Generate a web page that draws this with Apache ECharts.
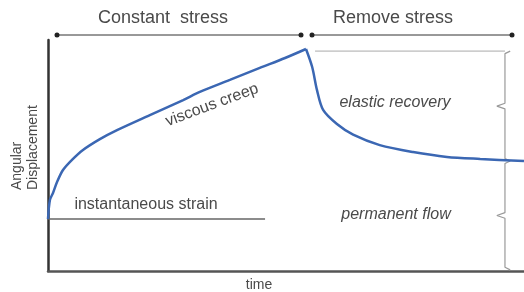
<!DOCTYPE html>
<html>
<head>
<meta charset="utf-8">
<script src="https://cdn.jsdelivr.net/npm/echarts@6/dist/echarts.min.js"></script>
<style>
  html, body { margin: 0; padding: 0; background: #fff; }
  #chart { width: 524px; height: 292px; }
</style>
</head>
<body>
<div id="chart"></div>
<script>
// time (0-100) and angular displacement (0-100)
const creep_time = [0, 0.4, 1.05, 1.9, 3.15, 5.04, 7.35, 10.9, 14.5, 21.4, 28.4, 31.9, 38.2, 44.5, 49.8, 54.2];
const creep_disp = [22.5, 30.7, 33.8, 38.5, 43.7, 48.1, 52.4, 57.1, 61.0, 67.5, 74.0, 77.5, 82.7, 87.9, 92.2, 96.1];

const recovery_time = [54.2, 55.5, 56.5, 57.8, 60.7, 64.1, 69.7, 76.7, 83.8, 90.8, 100];
const recovery_disp = [96.1, 88.3, 78.4, 69.7, 63.6, 59.0, 54.5, 51.5, 49.4, 48.5, 47.6];

const instant_strain = 22.5;       // level of the instantaneous strain line
const instant_end = 45.6;          // where that line stops
const peak_level = 95.2;           // reference line after unloading
const peak_line = [56.1, 96.0];
const final_level = 47.6;          // displacement left at the end
const brace_x = 96.0;

function zip(xs, ys) {
    return xs.map((x, i) => [x, ys[i]]);
}

// curly brace from top to bottom at brace_x
function brace(top, bottom) {
    const mid = (top + bottom) / 2;
    return [
        [brace_x + 1.1, top], [brace_x, top - 1.1],
        [brace_x, mid + 1.2], [brace_x - 1.7, mid], [brace_x, mid - 1.2],
        [brace_x, bottom + 1.1], [brace_x + 1.1, bottom]
    ];
}

const chart = echarts.init(document.getElementById('chart'));

const txt = '#4a4a4a';
const font = '"Liberation Sans", Arial, sans-serif';

const option = {
    animation: false,
    grid: { left: 48, right: 0, top: 40, bottom: 21 },
    xAxis: {
        type: 'value', min: 0, max: 100,
        axisLine: { show: true, onZero: false, lineStyle: { color: '#555', width: 2.5 } },
        axisTick: { show: false }, axisLabel: { show: false }, splitLine: { show: false }
    },
    yAxis: {
        type: 'value', min: 0, max: 100,
        axisLine: { show: true, onZero: false, lineStyle: { color: '#333', width: 2.5 } },
        axisTick: { show: false }, axisLabel: { show: false }, splitLine: { show: false }
    },
    series: [
        {
            type: 'line', data: [[0, instant_strain], [instant_end, instant_strain]],
            symbol: 'none', lineStyle: { color: '#666', width: 1.5 }
        },
        {
            type: 'line', data: [[peak_line[0], peak_level], [peak_line[1], peak_level]],
            symbol: 'none', lineStyle: { color: '#aaa', width: 1 }
        },
        {
            type: 'line', data: brace(peak_level, final_level),
            symbol: 'none', lineStyle: { color: '#999', width: 1.2 }
        },
        {
            type: 'line', data: brace(final_level, 0.5),
            symbol: 'none', lineStyle: { color: '#999', width: 1.2 }
        },
        {
            type: 'line', data: zip(creep_time, creep_disp),
            symbol: 'none', smooth: 0.3,
            lineStyle: { color: '#3b67b3', width: 2.5 }
        },
        {
            type: 'line', data: zip(recovery_time, recovery_disp),
            symbol: 'none', smooth: 0.3,
            lineStyle: { color: '#3b67b3', width: 2.5 }
        }
    ],
    graphic: [
        // phase arrows
        { type: 'line', shape: { x1: 57, y1: 35, x2: 301, y2: 35 }, style: { stroke: '#333', lineWidth: 1 } },
        { type: 'line', shape: { x1: 312, y1: 35, x2: 512, y2: 35 }, style: { stroke: '#333', lineWidth: 1 } },
        { type: 'circle', shape: { cx: 57, cy: 35, r: 2.5 }, style: { fill: '#222' } },
        { type: 'circle', shape: { cx: 301, cy: 35, r: 2.5 }, style: { fill: '#222' } },
        { type: 'circle', shape: { cx: 312, cy: 35, r: 2.5 }, style: { fill: '#222' } },
        { type: 'circle', shape: { cx: 512, cy: 35, r: 2.5 }, style: { fill: '#222' } },
        { type: 'text', x: 163, y: 18, style: { text: 'Constant  stress', fill: txt, font: '18px ' + font, align: 'center', verticalAlign: 'middle' } },
        { type: 'text', x: 393, y: 18, style: { text: 'Remove stress', fill: txt, font: '18px ' + font, align: 'center', verticalAlign: 'middle' } },
        { type: 'text', x: 17, y: 190, rotation: Math.PI / 2, style: { text: 'Angular', fill: txt, font: '14px ' + font, align: 'left', verticalAlign: 'middle' } },
        { type: 'text', x: 33, y: 190, rotation: Math.PI / 2, style: { text: 'Displacement', fill: txt, font: '14px ' + font, align: 'left', verticalAlign: 'middle' } },
        { type: 'text', x: 259, y: 285, style: { text: 'time', fill: txt, font: '14px ' + font, align: 'center', verticalAlign: 'middle' } },
        { type: 'text', x: 146, y: 205, style: { text: 'instantaneous strain', fill: txt, font: '16px ' + font, align: 'center', verticalAlign: 'middle' } },
        { type: 'text', x: 212, y: 105, rotation: 0.356, style: { text: 'viscous creep', fill: txt, font: '16px ' + font, align: 'center', verticalAlign: 'middle' } },
        { type: 'text', x: 395, y: 103, style: { text: 'elastic recovery', fill: txt, font: 'italic 16px ' + font, align: 'center', verticalAlign: 'middle' } },
        { type: 'text', x: 396, y: 215, style: { text: 'permanent flow', fill: txt, font: 'italic 16px ' + font, align: 'center', verticalAlign: 'middle' } }
    ]
};

chart.setOption(option);
</script>
</body>
</html>
